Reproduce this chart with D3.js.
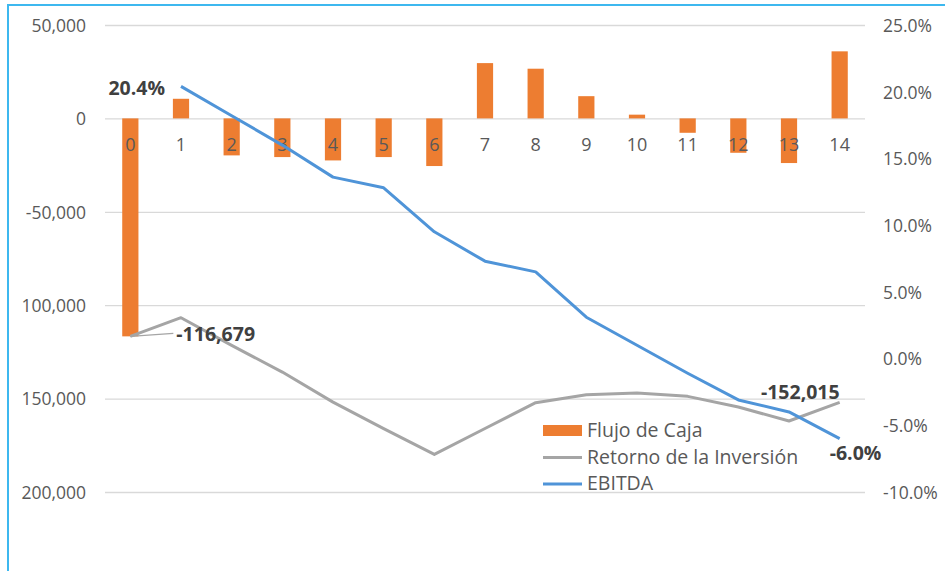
<!DOCTYPE html>
<html>
<head>
<meta charset="utf-8">
<script src="https://cdn.jsdelivr.net/npm/d3@7"></script>
<style>
	body { margin: 0; background: #fff; }
	svg text { font-family: 'Open Sans', sans-serif; }
</style>
</head>
<body>
<div id="chart"></div>
<script>
'use strict';

/* global d3 */

var periods = ['0', '1', '2', '3', '4', '5', '6', '7', '8', '9', '10', '11', '12', '13', '14'];

var flujoDeCaja = [-116679, 10500, -19800, -20700, -22500, -20700, -25500, 29600, 26600, 11900, 2000, -7700, -18400, -23900, 35900];

var retornoInversion = [-116679, -106700, -121500, -135800, -151900, -166100, -179900, -166000, -152200, -147900, -147000, -148800, -154500, -162000, -152015];

var ebitda = [null, 20.4, 18.2, 16.0, 13.6, 12.8, 9.5, 7.3, 6.5, 3.1, 1.0, -1.1, -3.1, -4.0, -6.0];

var leftTicks = [50000, 0, -50000, -100000, -150000, -200000];
var leftTickLabels = ['50,000', '0', '-50,000', '100,000', '150,000', '200,000'];

var rightTicks = [25, 20, 15, 10, 5, 0, -5, -10];
var rightTickLabels = ['25.0%', '20.0%', '15.0%', '10.0%', '5.0%', '0.0%', '-5.0%', '-10.0%'];

var legendNames = ['Flujo de Caja', 'Retorno de la Inversión', 'EBITDA'];

var colors = {
	bar: '#ED7D31',
	retorno: '#A5A5A5',
	ebitda: '#4F94D8',
	grid: '#D9D9D9',
	text: '#595959',
	label: '#404040',
	frame: '#3DB8EF'
};

// plain hyphen for negatives, like the spreadsheet labels
var locale = d3.formatLocale({ decimal: '.', thousands: ',', grouping: [3], currency: ['$', ''], minus: '-' });
var fmtThousands = locale.format(',');
var fmtPercent = locale.format('.1f');

function drawChart() {
	var width = 945;
	var height = 571;
	var plot = { left: 105, right: 865, top: 25, bottom: 492 };

	var svg = d3.select('#chart').append('svg')
		.attr('width', width)
		.attr('height', height);

	svg.append('rect')
		.attr('width', width)
		.attr('height', height)
		.attr('fill', '#fff');

	// frame around the picture (only top and left edges are visible)
	svg.append('rect')
		.attr('x', 8)
		.attr('y', 5)
		.attr('width', width + 20)
		.attr('height', height + 20)
		.attr('fill', 'none')
		.attr('stroke', colors.frame)
		.attr('stroke-width', 2);

	var x = d3.scaleBand().domain(periods).range([plot.left, plot.right]).paddingInner(0.68).paddingOuter(0.34);
	var xc = function (i) {
		return x(periods[i]) + x.bandwidth() / 2;
	};
	var yLeft = d3.scaleLinear().domain([-200000, 50000]).range([plot.bottom, plot.top]);
	var yRight = d3.scaleLinear().domain([-10, 25]).range([plot.bottom, plot.top]);

	// gridlines + left labels
	var leftAxis = d3.axisLeft(yLeft).tickValues(leftTicks).tickSize(-(plot.right - plot.left)).tickPadding(19)
		.tickFormat(function (d, i) {
			return leftTickLabels[i];
		});

	var gLeft = svg.append('g').attr('transform', 'translate(' + plot.left + ',0)').call(leftAxis);
	gLeft.select('.domain').remove();
	gLeft.selectAll('.tick line').attr('stroke', colors.grid).attr('stroke-width', 1.3);
	gLeft.selectAll('.tick text')
		.attr('fill', colors.text)
		.style('font-size', '17.5px')
		.attr('dy', '0.36em');

	var rightAxis = d3.axisRight(yRight).tickValues(rightTicks).tickSize(0).tickPadding(0)
		.tickFormat(function (d, i) {
			return rightTickLabels[i];
		});

	var gRight = svg.append('g').attr('transform', 'translate(883,0)').call(rightAxis);
	gRight.select('.domain').remove();
	gRight.selectAll('.tick text')
		.attr('fill', colors.text)
		.style('font-size', '17.5px')
		.attr('dy', '0.36em');

	// Flujo de Caja bars
	svg.append('g').selectAll('rect.bar').data(flujoDeCaja).enter().append('rect')
		.attr('class', 'bar')
		.attr('x', function (d, i) {
			return x(periods[i]);
		})
		.attr('width', x.bandwidth())
		.attr('y', function (d) {
			return yLeft(Math.max(0, d));
		})
		.attr('height', function (d) {
			return Math.abs(yLeft(d) - yLeft(0));
		})
		.attr('fill', colors.bar);

	// category labels next to the zero line
	svg.append('g').selectAll('text.cat').data(periods).enter().append('text')
		.attr('class', 'cat')
		.attr('x', function (d, i) {
			return xc(i);
		})
		.attr('y', yLeft(0) + 33)
		.attr('text-anchor', 'middle')
		.attr('fill', colors.text)
		.style('font-size', '18px')
		.text(function (d) {
			return d;
		});

	// Retorno de la Inversión line
	var retornoLine = d3.line()
		.x(function (d, i) {
			return xc(i);
		})
		.y(function (d) {
			return yLeft(d);
		});

	svg.append('path')
		.datum(retornoInversion)
		.attr('d', retornoLine)
		.attr('fill', 'none')
		.attr('stroke', colors.retorno)
		.attr('stroke-width', 3)
		.attr('stroke-linejoin', 'round');

	// EBITDA line
	var ebitdaLine = d3.line()
		.defined(function (d) {
			return d !== null;
		})
		.x(function (d, i) {
			return xc(i);
		})
		.y(function (d) {
			return yRight(d);
		});

	svg.append('path')
		.datum(ebitda)
		.attr('d', ebitdaLine)
		.attr('fill', 'none')
		.attr('stroke', colors.ebitda)
		.attr('stroke-width', 3)
		.attr('stroke-linejoin', 'round');

	// data labels
	var last = periods.length - 1;

	svg.append('line')
		.attr('x1', xc(0))
		.attr('y1', yLeft(retornoInversion[0]))
		.attr('x2', xc(0) + 43)
		.attr('y2', yLeft(retornoInversion[0]) - 3)
		.attr('stroke', colors.retorno)
		.attr('stroke-width', 1.2);

	var labels = [
		{ text: fmtThousands(retornoInversion[0]), x: xc(0) + 46, y: yLeft(retornoInversion[0]) + 5, anchor: 'start' },
		{ text: fmtThousands(retornoInversion[last]), x: xc(last), y: yLeft(retornoInversion[last]) - 3, anchor: 'end' },
		{ text: fmtPercent(ebitda[1]) + '%', x: xc(1) - 16, y: yRight(ebitda[1]) + 9, anchor: 'end' },
		{ text: fmtPercent(ebitda[last]) + '%', x: xc(last) - 10, y: yRight(ebitda[last]) + 21, anchor: 'start' }
	];

	svg.append('g').selectAll('text.data-label').data(labels).enter().append('text')
		.attr('class', 'data-label')
		.attr('x', function (d) {
			return d.x;
		})
		.attr('y', function (d) {
			return d.y;
		})
		.attr('text-anchor', function (d) {
			return d.anchor;
		})
		.attr('fill', colors.label)
		.style('font-size', '19.5px')
		.style('font-weight', 'bold')
		.text(function (d) {
			return d.text;
		});

	// legend
	var legend = svg.append('g').attr('transform', 'translate(543,437)');
	var rowGap = 26.5;

	legend.append('rect')
		.attr('x', 0)
		.attr('y', -12)
		.attr('width', 39)
		.attr('height', 11)
		.attr('fill', colors.bar);

	legend.append('line')
		.attr('x1', 0)
		.attr('x2', 39)
		.attr('y1', rowGap - 6)
		.attr('y2', rowGap - 6)
		.attr('stroke', colors.retorno)
		.attr('stroke-width', 3);

	legend.append('line')
		.attr('x1', 0)
		.attr('x2', 39)
		.attr('y1', rowGap * 2 - 6)
		.attr('y2', rowGap * 2 - 6)
		.attr('stroke', colors.ebitda)
		.attr('stroke-width', 3);

	legend.selectAll('text').data(legendNames).enter().append('text')
		.attr('x', 44)
		.attr('y', function (d, i) {
			return i * rowGap;
		})
		.attr('fill', colors.text)
		.style('font-size', '19.5px')
		.text(function (d) {
			return d;
		});
}

drawChart();
</script>
</body>
</html>
